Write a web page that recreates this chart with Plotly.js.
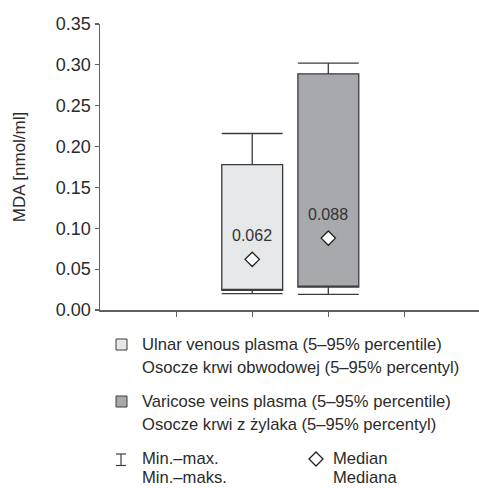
<!DOCTYPE html>
<html><head><meta charset="utf-8">
<script src="https://cdn.plot.ly/plotly-3.0.1.min.js"></script>
<style>html,body{margin:0;padding:0;background:#fff}</style>
</head><body><div id="chart" style="width:479px;height:488px"></div>
<script>
// ---- data ----
const groups = ["Ulnar venous plasma", "Varicose veins plasma"];
const minVals = [0.020, 0.019];
const p5Vals = [0.024, 0.028];
const medianVals = [0.062, 0.088];
const p95Vals = [0.178, 0.289];
const maxVals = [0.216, 0.302];
const yTickVals = [0, 0.05, 0.10, 0.15, 0.20, 0.25, 0.30, 0.35];
const yTickText = ["0.00", "0.05", "0.10", "0.15", "0.20", "0.25", "0.30", "0.35"];
const yTitle = "MDA [nmol/ml]";
const legendLines = [
  ["Ulnar venous plasma (5–95% percentile)", "Osocze krwi obwodowej (5–95% percentyl)"],
  ["Varicose veins plasma (5–95% percentile)", "Osocze krwi z żylaka (5–95% percentyl)"],
  ["Min.–max.", "Min.–maks."],
  ["Median", "Mediana"]
];

// ---- styles ----
const FONT = "'Liberation Sans', Arial, sans-serif";
const INK = "#3c3c3c";
const AXIS = "#5f6063";
const fills = ["#e6e7e8", "#a7a9ac"];

const W = 479, H = 488, ML = 100, MT = 24, MB = 178;
const PW = W - ML, PH = H - MT - MB;
const px = v => (v - ML) / PW;
const py = v => (H - MB - v) / PH;

const xIdx = groups.map((g, i) => i);

const traces = groups.map((g, i) => ({
  type: "box",
  name: g,
  x: [xIdx[i]],
  q1: [p5Vals[i]],
  median: [p5Vals[i]],
  q3: [p95Vals[i]],
  lowerfence: [minVals[i]],
  upperfence: [maxVals[i]],
  width: 0.8,
  whiskerwidth: 1,
  fillcolor: fills[i],
  line: {color: INK, width: 1.3},
  boxpoints: false,
  hoverinfo: "skip",
  showlegend: false
}));

traces.push({
  type: "scatter",
  mode: "markers",
  x: xIdx,
  y: medianVals,
  marker: {symbol: "diamond", size: 11, color: "#ffffff", line: {color: "#222222", width: 1.3}},
  hoverinfo: "skip",
  showlegend: false,
  cliponaxis: false
});

const annotations = groups.map((g, i) => ({
  x: xIdx[i], y: medianVals[i], xref: "x", yref: "y",
  text: medianVals[i].toFixed(3), showarrow: false, yshift: 24,
  font: {family: FONT, size: 16, color: "#333"}
}));

const lineY = [[344, 367], [401, 424], [459, 477], [459, 477]];
const lineX = [141, 141, 141, 332];
legendLines.forEach((pair, k) => {
  pair.forEach((t, j) => {
    annotations.push({
      xref: "paper", yref: "paper", x: px(lineX[k]), y: py(lineY[k][j]),
      xanchor: "left", yanchor: "middle", text: t, showarrow: false, borderpad: 0,
      font: {family: FONT, size: 16.6, color: "#2b2b2b"}
    });
  });
});

const shapes = [
  {type: "rect", xref: "paper", yref: "paper", x0: px(116), x1: px(127), y0: py(339), y1: py(350),
   fillcolor: fills[0], line: {color: INK, width: 1}},
  {type: "rect", xref: "paper", yref: "paper", x0: px(116), x1: px(127), y0: py(396), y1: py(407),
   fillcolor: fills[1], line: {color: INK, width: 1}},
  // min-max symbol
  {type: "line", xref: "paper", yref: "paper", x0: px(116), x1: px(126), y0: py(454), y1: py(454), line: {color: INK, width: 1.2}},
  {type: "line", xref: "paper", yref: "paper", x0: px(116), x1: px(126), y0: py(465.5), y1: py(465.5), line: {color: INK, width: 1.2}},
  {type: "line", xref: "paper", yref: "paper", x0: px(121), x1: px(121), y0: py(454), y1: py(465.5), line: {color: INK, width: 1.2}},
  // median symbol
  {type: "path", xref: "paper", yref: "paper",
   path: `M ${px(316)} ${py(452)} L ${px(323)} ${py(459)} L ${px(316)} ${py(466)} L ${px(309)} ${py(459)} Z`,
   fillcolor: "#ffffff", line: {color: "#222", width: 1.3}}
];

const layout = {
  width: W, height: H,
  margin: {l: ML, r: 0, t: MT, b: MB, pad: 0},
  paper_bgcolor: "#ffffff", plot_bgcolor: "#ffffff",
  showlegend: false,
  font: {family: FONT, color: "#333"},
  xaxis: {
    type: "linear", range: [-2, 2.98], showgrid: false, zeroline: false,
    showline: true, linecolor: AXIS, linewidth: 1.5,
    ticks: "outside", ticklen: 5, tickwidth: 1.2, tickcolor: AXIS,
    tickvals: [-1, 0, 1, 2], showticklabels: false, fixedrange: true
  },
  yaxis: {
    range: [0, 0.35], showgrid: false, zeroline: false,
    showline: true, linecolor: AXIS, linewidth: 1.5,
    ticks: "outside", ticklen: 4, tickwidth: 1.2, tickcolor: AXIS,
    tickvals: yTickVals, ticktext: yTickText,
    tickfont: {family: FONT, size: 18, color: "#2b2b2b"},
    title: {text: yTitle, font: {family: FONT, size: 17, color: "#2b2b2b"}, standoff: 26},
    fixedrange: true
  },
  annotations: annotations,
  shapes: shapes
};

Plotly.newPlot("chart", traces, layout, {staticPlot: true, displayModeBar: false});
</script></body></html>
